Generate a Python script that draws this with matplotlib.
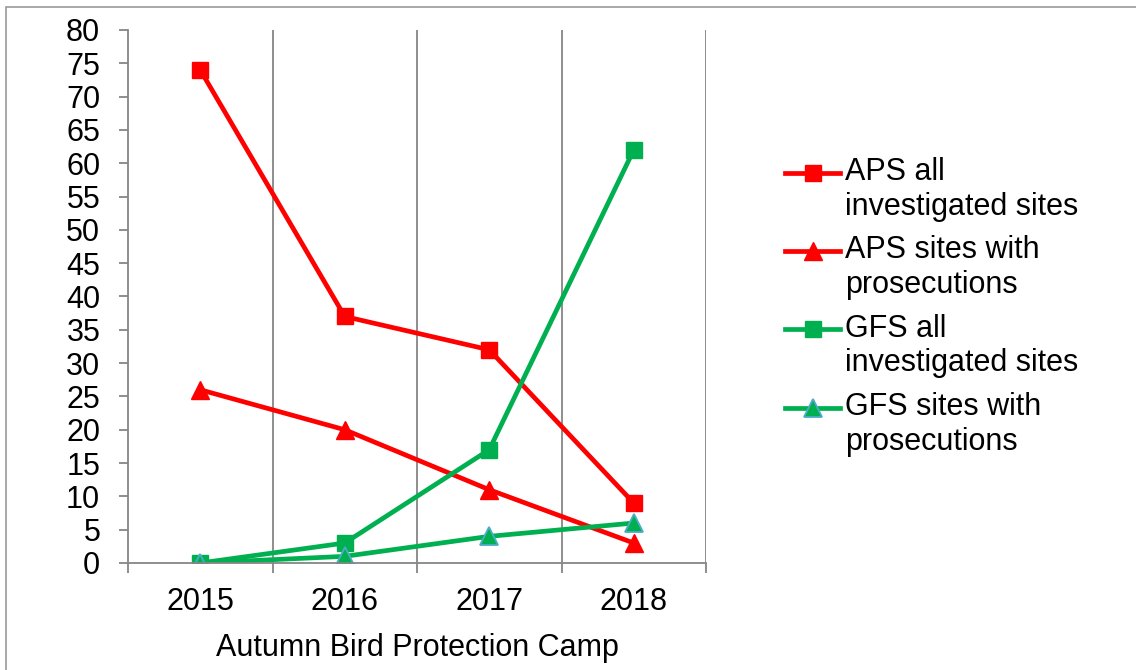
import numpy as np
import matplotlib
matplotlib.use('Agg')
import matplotlib.pyplot as plt
from matplotlib.patches import Rectangle
from matplotlib.legend_handler import HandlerLine2D

# data
years = ['2015', '2016', '2017', '2018']
aps_all = [74, 37, 32, 9]
aps_pros = [26, 20, 11, 3]
gfs_all = [0, 3, 17, 62]
gfs_pros = [0, 1, 4, 6]

plt.rcParams['font.family'] = ['Liberation Sans', 'DejaVu Sans']
fs = 22
grey = '#868686'
red = '#FF0000'
green = '#00B050'
teal = '#4BACC6'


class UpHandler(HandlerLine2D):
    # put the legend handle level with the first text line
    def __init__(self, dy, **kw):
        super().__init__(**kw)
        self.dy = dy

    def create_artists(self, legend, orig_handle, xdescent, ydescent, width, height, fontsize, trans):
        arts = super().create_artists(legend, orig_handle, xdescent, ydescent, width, height, fontsize, trans)
        for a in arts:
            a.set_ydata(np.asarray(a.get_ydata()) + self.dy)
        return arts


fig = plt.figure(figsize=(11.36, 6.70), dpi=100)
fig.patches.append(Rectangle((6/1136, -0.5), 2, (670-7)/670 + 0.5, transform=fig.transFigure,
                             fill=False, edgecolor='#9a9a9a', lw=1.2))
ax = fig.add_axes([128/1136, 107/670, 578/1136, 533/670])

x = np.arange(len(years))
l1, = ax.plot(x, aps_all, color=red, lw=3.4, marker='s', ms=12, label='APS all\ninvestigated sites')
l2, = ax.plot(x, aps_pros, color=red, lw=3.4, marker='^', ms=13, label='APS sites with\nprosecutions')
l3, = ax.plot(x, gfs_all, color=green, lw=3.4, marker='s', ms=12, label='GFS all\ninvestigated sites')
l4, = ax.plot(x, gfs_pros, color=green, lw=3.4, marker='^', ms=13, mec=teal, mew=1.3,
              label='GFS sites with\nprosecutions')

ax.set_xlim(-0.5, 3.5)
ax.set_ylim(0, 80)
ax.set_yticks(np.arange(0, 81, 5))
ax.set_xticks(x)
ax.set_xticklabels(years)
ax.set_xticks(np.arange(-0.5, 3.6, 1), minor=True)
ax.tick_params(axis='x', which='major', length=0, pad=17, labelsize=fs)
ax.tick_params(axis='x', which='minor', length=7, width=1.3, color=grey)
ax.tick_params(axis='y', length=6.5, width=1.3, color=grey, pad=13.5, labelsize=fs)
for s in ['top', 'right']:
    ax.spines[s].set_visible(False)
for s in ['left', 'bottom']:
    ax.spines[s].set_color(grey)
    ax.spines[s].set_linewidth(1.3)
for b in np.arange(0.5, 3.6, 1):
    ax.axvline(b, color=grey, lw=1.3, zorder=0)
ax.set_xlabel('Autumn Bird Protection Camp', fontsize=fs, labelpad=12)

hm = {h: UpHandler(12.5) for h in (l1, l2, l3, l4)}
fig.legend(handles=[l1, l2, l3, l4], handler_map=hm, loc='upper left',
           bbox_to_anchor=(785/1136, (670-157)/670), frameon=False,
           fontsize=fs, handlelength=1.8, handletextpad=0.16, labelspacing=0.45,
           borderpad=0, borderaxespad=0)

fig.savefig('out.png', dpi=100)
